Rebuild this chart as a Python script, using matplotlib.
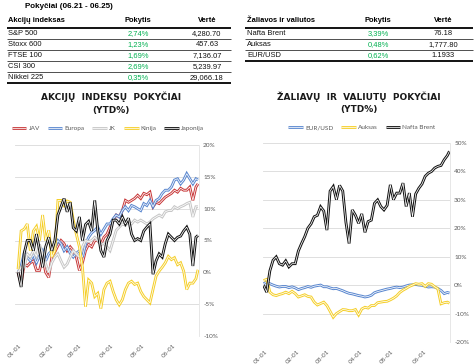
import numpy as np
import matplotlib
matplotlib.use("Agg")
import matplotlib.pyplot as plt
from matplotlib import patheffects as pe

# ---------------- data ----------------
# sample dates: days since 2021-01-01 (Dec 31 2020 .. Jun 25 2021)
days = list(range(-1, 174, 3)) + [175]

stock_names = ["JAV", "Europa", "JK", "Kinija", "Japonija"]
jav = [0, -1.8, 1.3, 1.0, 1.5, 1.8, 0.3, 0.3, 2.4, 0.0, -0.8, 2.4, 3.2, 4.2, 5.0, 4.5, 3.4, 4.0, 3.4, 2.4,
       0.3, 1.5, 3.4, 4.4, 4.0, 5.0, 5.0, 4.4, 5.5, 6.0, 7.1, 8.2, 9.0, 8.7, 9.7, 11.3, 11.0, 11.3, 11.6, 12.1,
       11.6, 12.4, 12.2, 12.6, 10.3, 11.0, 10.8, 11.3, 11.8, 12.1, 12.4, 12.9, 12.6, 13.2, 12.9, 12.9, 13.4, 11.3, 13.4, 13.9]
europa = [0, 1.0, 3.0, 2.4, 1.8, 2.8, 1.5, 2.6, 3.4, 1.8, 2.9, 3.4, 3.9, 5.0, 4.5, 3.4, 4.0, 3.0, 2.4, 3.0,
          3.4, 2.4, 4.4, 5.5, 6.2, 6.6, 7.1, 6.0, 6.8, 7.6, 7.6, 8.4, 9.0, 8.7, 9.7, 10.3, 9.7, 10.5, 10.3, 10.0,
          9.7, 10.8, 10.5, 11.3, 10.3, 11.3, 11.6, 12.4, 12.9, 12.9, 13.4, 14.5, 14.7, 13.9, 14.5, 15.5, 14.7, 13.9, 14.7, 14.5]
jk = [0, 0.8, 0.8, 2.9, 2.4, 3.4, 2.5, 4.4, 2.8, 1.3, 0.0, 1.5, 2.4, 2.9, 1.8, 0.8, 1.3, 2.4, 3.4, 2.9,
      2.4, 4.0, 5.0, 4.8, 5.0, 5.5, 5.0, 4.4, 4.5, 4.0, 3.4, 5.0, 6.6, 7.1, 7.6, 7.4, 7.9, 7.6, 8.2, 7.9,
      8.2, 7.9, 7.6, 7.9, 8.4, 8.7, 9.0, 8.7, 9.5, 9.7, 9.7, 10.3, 10.0, 10.3, 10.5, 10.8, 11.0, 8.7, 10.3, 10.3]
kinija = [0.5, 6.5, 6.8, 7.6, 3.4, 6.5, 7.2, 5.0, 9.0, 5.0, 6.6, 2.4, 3.4, 11.3, 11.3, 10.5, 11.2, 11.0, 8.2, 6.0,
          4.0, 0.8, -5.4, -1.2, -1.7, -3.8, -3.3, -5.7, -2.7, -1.7, -1.4, -3.0, -4.3, -5.1, -4.3, -2.7, -1.7, -1.4, -1.9, -1.7,
          -3.0, -3.8, -4.3, -4.8, -2.7, -0.6, 0.2, 0.8, 1.5, 2.5, 2.0, 2.3, 1.2, 1.5, 0.2, -2.7, -1.7, -1.7, -1.0, 0.4]
japonija = [0, -2.3, 3.0, 5.0, 5.0, 3.4, 6.0, 3.5, 0.8, 4.0, 5.5, 3.4, 5.0, 9.0, 10.3, 11.6, 9.5, 11.0, 7.0, 6.5,
            8.7, 5.0, 7.5, 8.0, 6.5, 11.3, 6.5, 3.4, 2.4, 5.0, 6.0, 8.2, 8.2, 7.6, 8.7, 7.6, 8.5, 6.0, 5.0, 5.3,
            5.0, 6.5, 7.1, 7.6, -0.3, 1.8, 2.9, 2.4, 4.5, 6.0, 5.5, 5.0, 5.5, 5.7, 6.5, 7.1, 6.0, 1.0, 5.5, 5.8]

comm_names = ["EUR/USD", "Auksas", "Nafta Brent"]
eurusd = [0.5, 1.0, 0.5, 0.0, -0.4, -0.7, -0.5, -0.5, -0.9, -0.6, -1.0, -1.6, -1.2, -0.9, -0.5, -0.8, -0.4, -0.2, 0.0, -0.6,
          -0.6, -1.0, -1.3, -1.2, -1.6, -2.0, -2.5, -2.9, -3.1, -3.4, -3.7, -3.9, -4.2, -4.0, -3.6, -2.7, -2.3, -2.0, -1.7, -1.4,
          -1.2, -0.9, -0.7, -0.9, -0.7, -0.3, 0.0, 0.1, 0.2, 0.0, -0.1, -0.4, -0.7, -0.6, -0.7, -1.2, -1.9, -3.0, -2.6, -2.8]
auksas = [1.6, 2.0, -2.5, -3.4, -3.7, -3.3, -3.0, -2.5, -3.0, -2.2, -3.0, -4.2, -3.8, -3.4, -4.0, -4.2, -6.0, -7.0, -6.5, -6.0,
          -7.2, -9.2, -11.3, -10.0, -9.3, -8.6, -8.7, -9.0, -9.0, -8.6, -10.5, -8.4, -7.8, -8.1, -7.2, -7.2, -6.2, -6.0, -5.8, -5.7,
          -5.2, -4.6, -3.8, -2.6, -1.8, -1.2, -0.5, 0.0, 0.5, 0.3, 0.5, -0.5, 0.5, 0.3, -0.6, -1.3, -6.6, -6.2, -6.0, -6.4]
brent = [0, -2.5, 5.0, 8.7, 9.9, 7.5, 7.0, 8.5, 6.4, 7.5, 7.5, 12.0, 14.6, 17.0, 20.0, 21.5, 24.0, 24.5, 27.5, 26.0,
         19.3, 33.0, 34.6, 30.0, 35.0, 33.0, 22.0, 14.6, 26.4, 24.5, 21.7, 25.0, 18.5, 22.3, 22.8, 28.7, 29.9, 27.6, 26.4, 28.0,
         35.2, 30.0, 32.3, 32.3, 35.8, 27.6, 32.3, 24.0, 32.0, 34.0, 35.5, 38.2, 39.3, 39.9, 41.1, 41.7, 42.0, 44.0, 45.5, 47.0]

month_ticks = [0, 31, 59, 90, 120, 151]
month_labels = ["01-01", "02-01", "03-01", "04-01", "05-01", "06-01"]

tbl1_names = ["S&P 500", "Stoxx 600", "FTSE 100", "CSI 300", "Nikkei 225"]
tbl1_chg = ["2,74%", "1,23%", "1,69%", "2,69%", "0,35%"]
tbl1_val = ["4,280.70", "457.63", "7,136.07", "5,239.97", "29,066.18"]
tbl2_names = ["Nafta Brent", "Auksas", "EUR/USD"]
tbl2_chg = ["3,39%", "0,48%", "0,62%"]
tbl2_val = ["76.18", "1,777.80", "1.1933"]

# ---------------- figure ----------------
W, H = 474, 364
fig = plt.figure(figsize=(W / 100, H / 100), dpi=100)
fig.patch.set_facecolor("white")

ov = fig.add_axes([0, 0, 1, 1])
ov.set_xlim(0, W)
ov.set_ylim(H, 0)
ov.axis("off")

TF = "Liberation Sans"
GREEN = "#00B050"
ov.text(25, 6.7, "Pokyčiai (06.21 - 06.25)", fontsize=5.8, fontweight="bold", family=TF, va="center", ha="left")


def table(x0, x1, xn, xc, xv, hdr, names, chg, vals):
    ytop = 20
    ov.text(xn, ytop, hdr, fontsize=5.4, fontweight="bold", family=TF, va="center", ha="left")
    ov.text(xc, ytop, "Pokytis", fontsize=5.4, fontweight="bold", family=TF, va="center", ha="center")
    ov.text(xv, ytop, "Vertė", fontsize=5.4, fontweight="bold", family=TF, va="center", ha="center")
    ov.plot([x0, x1], [27.7, 27.7], color="black", lw=1.3, solid_capstyle="butt")
    rh = 11
    for i, (n, c, v) in enumerate(zip(names, chg, vals)):
        yc = 33.3 + i * rh
        ov.text(xn, yc, n, fontsize=5.4, family=TF, va="center", ha="left", color="#111111")
        ov.text(xc, yc, c, fontsize=5.4, family=TF, va="center", ha="center", color=GREEN)
        ov.text(xv, yc, v, fontsize=5.4, family=TF, va="center", ha="center", color="#111111")
        yl = yc + 5.5
        if i < len(names) - 1:
            ov.plot([x0, x1], [yl, yl], color="#333333", lw=0.6, solid_capstyle="butt")
        else:
            ov.plot([x0, x1], [yl, yl], color="black", lw=1.3, solid_capstyle="butt")


table(7, 231, 8, 138, 207, "Akcijų indeksas", tbl1_names, tbl1_chg, tbl1_val)
table(245, 473, 247, 378, 443, "Žaliavos ir valiutos", tbl2_names, tbl2_chg, tbl2_val)

# chart titles
TTL = dict(fontsize=6.5, fontweight="bold", family="DejaVu Sans", color="#1a1a1a", ha="center", va="center")
ov.text(111, 96.5, "AKCIJŲ  INDEKSŲ  POKYČIAI", **TTL)
ov.text(111, 110, "(YTD%)", **TTL)
ov.text(359, 96.5, "ŽALIAVŲ  IR  VALIUTŲ  POKYČIAI", **TTL)
ov.text(359, 109.5, "(YTD%)", **TTL)


def fax(l, r, t, b):
    return fig.add_axes([l / W, 1 - b / H, (r - l) / W, (b - t) / H])


LF = "Lato"
GREY_TXT = "#595959"


def style(ax, ylo, yhi, step, xlim):
    ax.set_xlim(*xlim)
    ax.set_ylim(ylo, yhi)
    ticks = list(range(ylo, yhi + 1, step))
    ax.set_yticks(ticks)
    ax.set_yticklabels([f"{t}%" for t in ticks], family=LF, fontsize=4.6, color=GREY_TXT)
    ax.yaxis.tick_right()
    ax.grid(axis="y", color="#D9D9D9", lw=0.6)
    ax.set_axisbelow(True)
    for s in ["top", "left", "bottom"]:
        ax.spines[s].set_visible(False)
    ax.spines["right"].set_color("#E3E3E3")
    ax.spines["right"].set_linewidth(0.6)
    ax.set_xticks(month_ticks)
    ax.set_xticklabels(month_labels, rotation=45, ha="right", rotation_mode="anchor",
                       family=LF, fontsize=4.6, color=GREY_TXT)
    ax.tick_params(length=0, pad=3)
    ax.tick_params(axis="x", pad=5)
    ax.patch.set_alpha(0)


def dline(ax, y, c, label):
    return ax.plot(days, y, color="white", lw=0.55, label=label, solid_joinstyle="miter",
                   solid_capstyle="butt",
                   path_effects=[pe.Stroke(linewidth=2.0, foreground=c), pe.Normal()])[0]


ax1 = fax(15, 199, 145, 336)
style(ax1, -10, 20, 5, (-4, 176))
cols1 = ["#C8393A", "#5A87CF", "#C6C6C6", "#F5CF2A", "#111111"]
h1 = [dline(ax1, s, c, n) for s, c, n in zip([jav, europa, jk, kinija, japonija], cols1, stock_names)]

ax2 = fax(263, 450, 142.7, 342)
style(ax2, -20, 50, 10, (-1.5, 175.5))
cols2 = ["#5A87CF", "#F5CF2A", "#111111"]
h2 = [dline(ax2, s, c, n) for s, c, n in zip([eurusd, auksas, brent], cols2, comm_names)]

LEG = dict(loc="center", frameon=False, handlelength=2.3, handletextpad=0.35, columnspacing=1.2,
           prop={"family": LF, "size": 4.6}, labelcolor=GREY_TXT, borderaxespad=0)
fig.legend(h1, stock_names, ncol=5, bbox_to_anchor=(108 / W, 1 - 128.3 / H), **LEG)
fig.legend(h2, comm_names, ncol=3, bbox_to_anchor=(362 / W, 1 - 127.3 / H), **LEG)

fig.savefig("out.png", dpi=100)
